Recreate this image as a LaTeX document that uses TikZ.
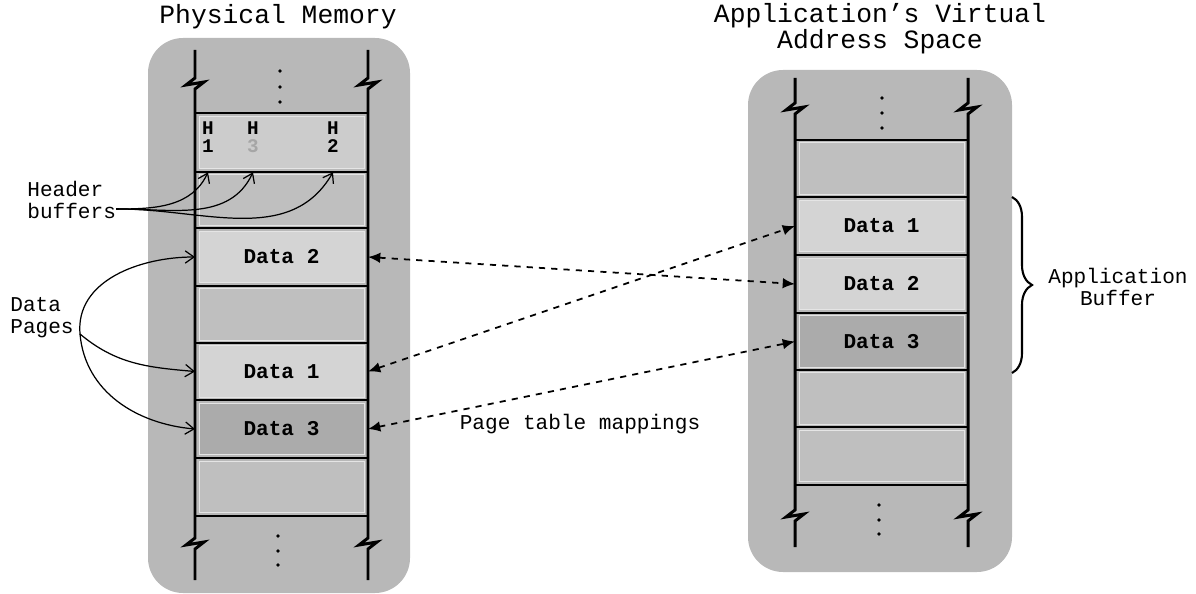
\documentclass[tikz,border=0pt]{standalone}
\usepackage{fontspec}
\setmonofont{Liberation Mono}
\usetikzlibrary{arrows.meta,decorations.pathreplacing}
\definecolor{panelgray}{gray}{0.72}
\definecolor{emptyfill}{gray}{0.75}
\definecolor{hdrfill}{gray}{0.80}
\definecolor{datafill}{gray}{0.83}
\definecolor{darkfill}{gray}{0.67}
\tikzset{panel/.style={fill=panelgray, rounded corners=0.7cm},
cell/.style={minimum width=3.3cm, minimum height=1.03cm, inner sep=0pt, outer sep=0.08cm,
  draw=gray!20, line width=0.5pt, font=\ttfamily\bfseries\fontsize{12}{12}\selectfont},
rail/.style={line width=1.7pt, line join=miter},
rung/.style={line width=1.7pt},
lbl/.style={font=\ttfamily\fontsize{12}{12.5}\selectfont, inner sep=0pt},
pagemap/.style={line width=1pt, dash pattern=on 3.5pt off 3.5pt,
  {Latex[length=7pt,width=6pt]}-{Latex[length=7pt,width=6pt]}},
pointer/.style={line width=0.7pt, -{Straight Barb[length=5pt,width=7pt]}}}
% rail with two break marks: x, top, break 1, break 2, bottom
\newcommand{\memrail}[5]{%
  \draw[rail] (#1,#2) -- (#1,#3-5) -- (#1-9,#3+2) -- (#1+9,#3-1) -- (#1,#3+6)
    -- (#1,#4-5) -- (#1-9,#4+2) -- (#1+9,#4-1) -- (#1,#4+6) -- (#1,#5);}
\begin{document}
\begin{tikzpicture}[x=0.02cm, y=-0.02cm]
    \useasboundingbox (0,0) rectangle (1196,594);

    % panels
    \fill[panel] (148,38) rectangle (410,593);
    \fill[panel] (748,70) rectangle (1012,572);

    % physical pages
    \foreach \name/\y/\col/\txt in {hrow/142.5/hdrfill/{}, pe1/200/emptyfill/{}, pd2/257/datafill/Data 2,
        pe2/314.5/emptyfill/{}, pd1/371.5/datafill/Data 1, pd3/429/darkfill/Data 3, pe3/487/emptyfill/{}}{
        \node[cell, fill=\col] (\name) at (281.5,\y) {\txt};
    }
    % virtual pages
    \foreach \name/\y/\col/\txt in {ve1/168.5/emptyfill/{}, vd1/226/datafill/Data 1, vd2/284/datafill/Data 2,
        vd3/341.5/darkfill/Data 3, ve2/398.5/emptyfill/{}, ve3/456/emptyfill/{}}{
        \node[cell, fill=\col] (\name) at (881.5,\y) {\txt};
    }

    % rungs
    \foreach \y in {113,172,228,286,343,400,458,516}
        \draw[rung] (195,\y) -- (368,\y);
    \foreach \y in {140,197,255,313,370,427,485}
        \draw[rung] (795,\y) -- (968,\y);

    % rails
    \memrail{195}{50}{83}{543}{580}
    \memrail{368}{50}{83}{543}{580}
    \memrail{795}{78}{108}{515}{547}
    \memrail{968}{78}{108}{515}{547}

    % dots
    \foreach \x/\y in {280/71, 280/87, 280/102, 278/536, 278/551, 278/565,
        882/98, 882/113, 882/128, 879/505, 879/520, 879/534}
        \fill (\x,\y) circle (1.1pt);

    % headers
    \begin{scope}[every node/.style={font=\ttfamily\bfseries\fontsize{11}{10.5}\selectfont, align=center, inner sep=0pt}]
        \node (h1) at (208,137) {H\\1};
        \node (h3) at (253,137) {H\\\textcolor{gray!70}{3}};
        \node (h2) at (333,137) {H\\2};
    \end{scope}

    % titles
    \node[font=\ttfamily\fontsize{15}{13}\selectfont] (ptitle) at (278,17) {Physical Memory};
    \node[font=\ttfamily\fontsize{15}{12.5}\selectfont, align=center] (vtitle) at (880,29)
        {Application’s Virtual\\Address Space};

    % labels
    \node[lbl, align=left, anchor=west] (hbl) at (27,200) {Header\\buffers};
    \node[lbl, align=left, anchor=west] (dpl) at (10,318) {Data\\Pages};
    \node[lbl] (ptm) at (580,424) {Page table mappings};
    \node[lbl, align=center] (abl) at (1118,287) {Application\\Buffer};
    \coordinate (hb) at (119,209);
    \coordinate (dp) at (80,334);

    % header pointers
    \draw[line width=0.7pt] (hbl.east |- hb) -- (hb);
    \draw[pointer] (hb) to[out=0, in=-115] (hrow.south -| h1);
    \draw[pointer] (hb) to[out=0, in=-115] (hrow.south -| h3);
    \draw[pointer] (hb) to[out=0, in=-120] (hrow.south -| h2);

    % data page pointers
    \draw[pointer] (dp) to[out=95, in=180] (pd2.west);
    \draw[pointer] (dp) to[out=-40, in=175] (pd1.west);
    \draw[pointer] (dp) to[out=-85, in=175] (pd3.west);

    % page table mappings
    \draw[pagemap] (pd2.east) -- (vd2.west);
    \draw[pagemap] (pd1.east) -- (vd1.west);
    \draw[pagemap] (pd3.east) -- (vd3.west);

    % application buffer
    \coordinate (bt) at (1012,197);
    \coordinate (bb) at (1012,373);
    \draw[line width=1.2pt, decorate, decoration={brace, amplitude=0.4cm}] (bt) -- (bb);
\end{tikzpicture}
\end{document}
